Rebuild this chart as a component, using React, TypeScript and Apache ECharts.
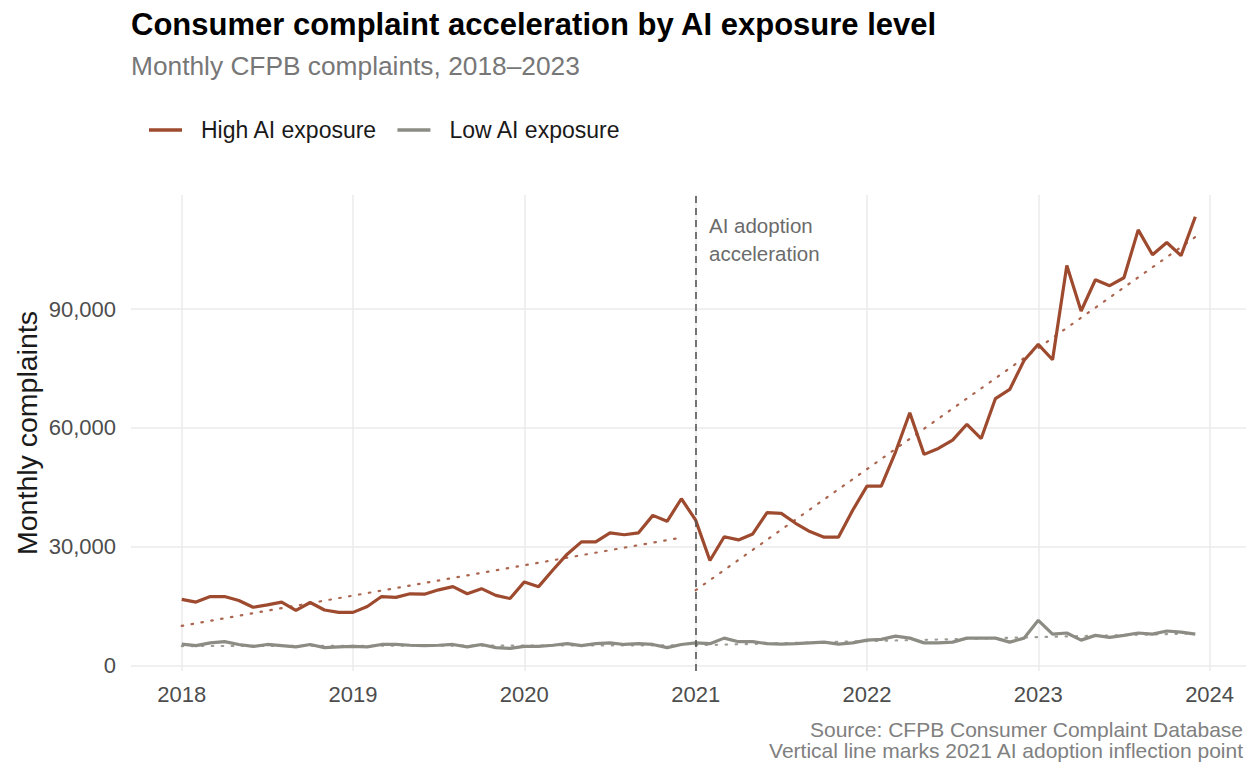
import { useEffect, useRef } from "react";
import * as echarts from "echarts";

const FONT = "'Liberation Sans', Arial, sans-serif";
const HIGH_COLOR = "#9e4a2f";
const LOW_COLOR = "#8c8c84";

// monthly series, Jan 2018 .. Dec 2023
const START_YEAR = 2018;
const highExposure = [
  16700, 16000, 17400, 17400, 16400, 14700, 15300, 16000, 13900, 15900, 14000, 13400,
  13400, 14900, 17400, 17200, 18100, 18000, 19100, 19900, 18100, 19400, 17700, 16900,
  21100, 19900, 24100, 28100, 31200, 31200, 33500, 33000, 33500, 37900, 36400, 42100,
  36700, 26500, 32500, 31700, 33200, 38600, 38400, 35900, 33800, 32400, 32400, 39200,
  45300, 45300, 53900, 63800, 53300, 54800, 56900, 60900, 57300, 67400, 69700, 77000,
  81100, 77200, 101000, 89500, 97400, 95900, 97900, 110000, 103700, 106800, 103500, 113300
];
const lowExposure = [
  5400, 5000, 5700, 6000, 5300, 4800, 5300, 5000, 4700, 5300, 4500, 4700,
  4800, 4700, 5300, 5300, 5100, 5000, 5100, 5300, 4700, 5300, 4500, 4300,
  4800, 4800, 5100, 5500, 5000, 5500, 5700, 5300, 5500, 5300, 4500, 5300,
  5700, 5500, 6900, 6000, 6000, 5500, 5400, 5500, 5700, 5900, 5400, 5700,
  6400, 6600, 7400, 6900, 5700, 5700, 5900, 6900, 6900, 6900, 5900, 6900,
  11400, 7900, 8200, 6400, 7600, 7100, 7600, 8200, 7900, 8700, 8400, 7900
];

// linear trend end values for each period (first month, last month)
const periodBefore = [0, 35];
const periodAfter = [36, 71];
const highTrendBefore = [10000, 32300];
const highTrendAfter = [19000, 108200];
const lowTrendBefore = [4900, 5100];
const lowTrendAfter = [5100, 8100];

const INFLECTION_YEAR = 2021;

const monthX = (i: number) => START_YEAR + i / 12;
const toPoints = (values: number[]) => values.map((v, i) => [monthX(i), v]);
const trendPoints = (period: number[], values: number[]) =>
  period.map((m, i) => [monthX(m), values[i]]);

export default function App() {
  const ref = useRef<HTMLDivElement | null>(null);

  useEffect(() => {
    if (!ref.current) {
      return;
    }
    const chart = echarts.init(ref.current, null, { renderer: "svg" });

    const trendSeries = (name: string, data: number[][], color: string) => ({
      name,
      type: "line",
      data,
      symbol: "none",
      silent: true,
      z: 1,
      lineStyle: { color, width: 2.2, type: [1.5, 8.5], cap: "round", opacity: 0.85 }
    });

    chart.setOption({
      animation: false,
      textStyle: { fontFamily: FONT },
      legend: {
        data: ["High AI exposure", "Low AI exposure"],
        left: 149,
        top: 118,
        padding: 0,
        icon: "rect",
        itemWidth: 33,
        itemHeight: 3.5,
        itemGap: 20,
        textStyle: { fontSize: 23, color: "#1a1a1a", lineHeight: 24, padding: [0, 0, 0, 14] }
      },
      grid: { left: 131, right: 10, top: 195, bottom: 107 },
      xAxis: {
        type: "value",
        min: 2017.704,
        max: 2024.2125,
        splitNumber: 6,
        axisLine: { show: false },
        axisTick: { show: false },
        axisLabel: {
          color: "#4d4d4d",
          fontSize: 22,
          margin: 12,
          showMinLabel: false,
          showMaxLabel: false,
          formatter: (v: number) => (Number.isInteger(v) ? String(v) : "")
        },
        splitLine: {
          show: true,
          showMinLine: false,
          showMaxLine: false,
          lineStyle: { color: "#ebebeb", width: 1.5 }
        }
      },
      yAxis: {
        type: "value",
        min: -1400,
        max: 118800,
        splitNumber: 4,
        axisLine: { show: false },
        axisTick: { show: false },
        axisLabel: {
          color: "#4d4d4d",
          fontSize: 22,
          margin: 15,
          showMinLabel: false,
          showMaxLabel: false,
          formatter: (v: number) => v.toLocaleString("en-US")
        },
        splitLine: {
          show: true,
          showMinLine: false,
          showMaxLine: false,
          lineStyle: { color: "#ebebeb", width: 1.5 }
        }
      },
      graphic: [
        {
          type: "text",
          x: 131,
          y: 24,
          style: {
            text: "Consumer complaint acceleration by AI exposure level",
            fontSize: 31,
            fontWeight: "bold",
            fontFamily: FONT,
            fill: "#000",
            align: "left",
            verticalAlign: "middle"
          }
        },
        {
          type: "text",
          x: 131,
          y: 66,
          style: {
            text: "Monthly CFPB complaints, 2018\u20132023",
            fontSize: 26.3,
            fontFamily: FONT,
            fill: "#777777",
            align: "left",
            verticalAlign: "middle"
          }
        },
        {
          type: "text",
          x: 27,
          y: 433,
          rotation: Math.PI / 2,
          style: {
            text: "Monthly complaints",
            fontSize: 28.5,
            fontFamily: FONT,
            fill: "#1a1a1a",
            align: "center",
            verticalAlign: "middle"
          }
        },
        {
          type: "text",
          x: 709,
          y: 239,
          style: {
            text: "AI adoption\nacceleration",
            fontSize: 20.5,
            lineHeight: 28,
            fontFamily: FONT,
            fill: "#6b6b6b",
            align: "left",
            verticalAlign: "middle"
          }
        },
        {
          type: "text",
          x: 1243,
          y: 740,
          style: {
            text: "Source: CFPB Consumer Complaint Database\nVertical line marks 2021 AI adoption inflection point",
            fontSize: 21,
            lineHeight: 21,
            fontFamily: FONT,
            fill: "#808080",
            align: "right",
            verticalAlign: "middle"
          }
        }
      ],
      series: [
        trendSeries("High trend 2018\u20132020", trendPoints(periodBefore, highTrendBefore), HIGH_COLOR),
        trendSeries("High trend 2021\u20132023", trendPoints(periodAfter, highTrendAfter), HIGH_COLOR),
        trendSeries("Low trend 2018\u20132020", trendPoints(periodBefore, lowTrendBefore), LOW_COLOR),
        trendSeries("Low trend 2021\u20132023", trendPoints(periodAfter, lowTrendAfter), LOW_COLOR),
        {
          name: "Low AI exposure",
          type: "line",
          data: toPoints(lowExposure),
          color: LOW_COLOR,
          symbol: "none",
          z: 2,
          lineStyle: { color: LOW_COLOR, width: 3.2 }
        },
        {
          name: "High AI exposure",
          type: "line",
          data: toPoints(highExposure),
          color: HIGH_COLOR,
          symbol: "none",
          z: 3,
          lineStyle: { color: HIGH_COLOR, width: 3.2 },
          markLine: {
            silent: true,
            symbol: ["none", "none"],
            label: { show: false },
            lineStyle: { color: "#555555", width: 1.6, type: [7, 5] },
            data: [{ xAxis: INFLECTION_YEAR }]
          }
        }
      ]
    });

    return () => {
      chart.dispose();
    };
  }, []);

  return (
    <div
      ref={ref}
      style={{ position: "absolute", left: 0, top: 0, width: 1256, height: 778, background: "#fff" }}
    />
  );
}
